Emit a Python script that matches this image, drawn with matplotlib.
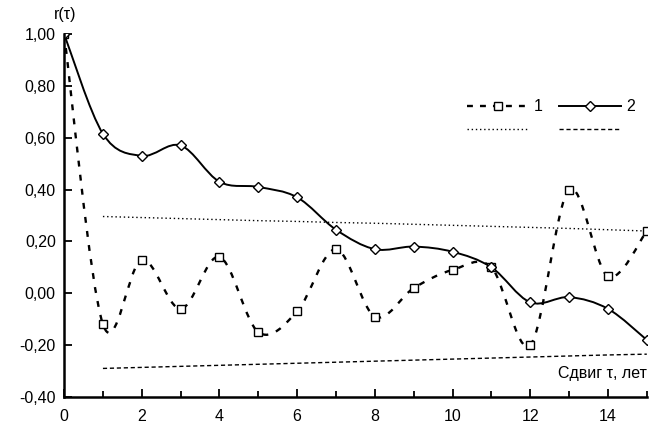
import numpy as np
import matplotlib.pyplot as plt
from matplotlib.path import Path
from matplotlib.patches import PathPatch
from matplotlib.lines import Line2D
from matplotlib.ticker import MultipleLocator, FuncFormatter

plt.rcParams['font.family'] = ['Liberation Sans', 'DejaVu Sans']

# lag values
tau = np.arange(16)
# autocorrelation, series 1 and 2
r1 = [1.00, -0.12, 0.13, -0.06, 0.14, -0.15, -0.07, 0.17, -0.09, 0.02,
      0.09, 0.10, -0.20, 0.40, 0.065, 0.24]
r2 = [1.00, 0.615, 0.53, 0.57, 0.43, 0.41, 0.37, 0.245, 0.17, 0.18,
      0.16, 0.10, -0.035, -0.015, -0.06, -0.18]
# confidence bounds (from lag 1)
tau_b = np.arange(1, 16)
upper = [0.296, 0.292, 0.288, 0.284, 0.280, 0.277, 0.273, 0.270, 0.266,
         0.262, 0.258, 0.254, 0.250, 0.245, 0.240]
lower = [-0.290, -0.286, -0.282, -0.278, -0.274, -0.270, -0.266, -0.262,
         -0.258, -0.254, -0.250, -0.246, -0.242, -0.238, -0.235]


def smooth_path(x, y):
    # cubic Bezier segments through every point (Catmull-Rom tangents)
    x = np.asarray(x, float)
    y = np.asarray(y, float)
    n = len(x)
    verts = [(x[0], y[0])]
    codes = [Path.MOVETO]
    for i in range(n - 1):
        i0 = max(i - 1, 0)
        i3 = min(i + 2, n - 1)
        c1 = (x[i] + (x[i + 1] - x[i0]) / 6, y[i] + (y[i + 1] - y[i0]) / 6)
        c2 = (x[i + 1] - (x[i3] - x[i]) / 6, y[i + 1] - (y[i3] - y[i]) / 6)
        verts += [c1, c2, (x[i + 1], y[i + 1])]
        codes += [Path.CURVE4] * 3
    return Path(verts, codes)


fig = plt.figure(figsize=(6.54, 4.25), dpi=100)
ax = fig.add_axes([0.098, 0.066, 0.891, 0.854])

ax.add_patch(PathPatch(smooth_path(tau_b, upper), fill=False, color='black',
                       lw=1.0, linestyle=(0, (1, 2))))
ax.add_patch(PathPatch(smooth_path(tau_b, lower), fill=False, color='black',
                       lw=1.0, linestyle=(0, (3, 2))))
ax.add_patch(PathPatch(smooth_path(tau, r1), fill=False, color='black',
                       lw=1.7, linestyle=(0, (2.5, 3.5))))
ax.add_patch(PathPatch(smooth_path(tau, r2), fill=False, color='black', lw=1.4))
ax.plot(tau, r1, ls='none', marker='s', ms=5.5, mfc='white', mec='black', mew=1)
ax.plot(tau, r2, ls='none', marker='D', ms=5, mfc='white', mec='black', mew=1)

ax.set_xlim(0, 15)
ax.set_ylim(-0.4, 1.0)
ax.xaxis.set_major_locator(MultipleLocator(2))
ax.xaxis.set_minor_locator(MultipleLocator(1))
ax.yaxis.set_major_locator(MultipleLocator(0.2))
ax.yaxis.set_major_formatter(FuncFormatter(lambda v, p: f'{v:.2f}'.replace('.', ',')))
ax.tick_params(axis='both', direction='in', width=1.3, labelsize=11.5, colors='black')
ax.tick_params(axis='x', which='major', length=6, pad=9)
ax.tick_params(axis='x', which='minor', length=4, width=1.3, direction='in')
ax.tick_params(axis='y', length=6, pad=6)
for s in ['top', 'right']:
    ax.spines[s].set_visible(False)
for s in ['left', 'bottom']:
    ax.spines[s].set_linewidth(1.8)

fig.text(0.099, 0.965, 'r(τ)', fontsize=11.5, ha='center', va='center')
ax.text(15, -0.28, 'Сдвиг τ, лет', fontsize=11.5, ha='right', va='top')

handles = [
    Line2D([], [], color='black', lw=1.7, ls=(0, (2.5, 3)), marker='s', ms=5.5,
           mfc='white', mec='black'),
    Line2D([], [], color='black', lw=1.0, ls=(0, (1, 2))),
    Line2D([], [], color='black', lw=1.4, marker='D', ms=5, mfc='white',
           mec='black'),
    Line2D([], [], color='black', lw=1.0, ls=(0, (3, 2))),
]
ax.legend(handles, ['1', '', '2', ''], ncol=2, frameon=False, fontsize=11.5,
          loc='upper right', bbox_to_anchor=(1.004, 0.86), handlelength=3.9,
          columnspacing=1.0, handletextpad=0.3, labelspacing=0.55)

fig.savefig('out.png', dpi=100)
